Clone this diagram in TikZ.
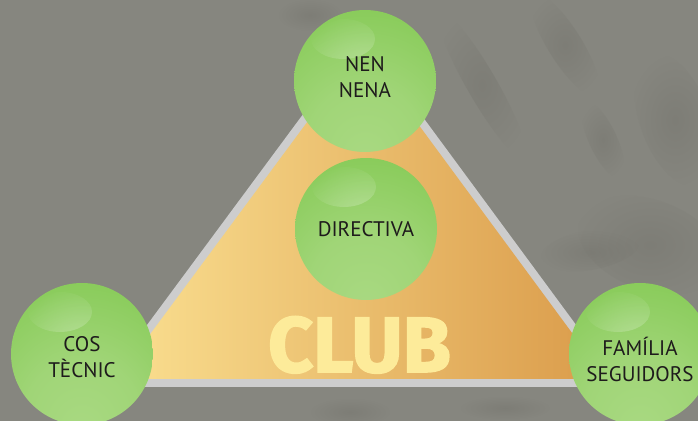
\documentclass[tikz,border=0pt]{standalone}
\usepackage{fontspec}
\setmainfont{PT Sans}
\newfontfamily\clubfont{Fira Sans}[BoldFeatures={FakeBold=2.2}]
\usetikzlibrary{fadings}
\definecolor{bgc}{HTML}{86867F}
\definecolor{rimc}{HTML}{CDCDCD}
\definecolor{triL}{HTML}{FADF90}
\definecolor{triR}{HTML}{DA9B4A}
\definecolor{clubc}{HTML}{FDEB9A}
\definecolor{txt}{HTML}{1E1B1C}
\definecolor{sphL}{HTML}{A9D982}
\definecolor{sphL2}{HTML}{A0D577}
\definecolor{sphM}{HTML}{88CB59}
\definecolor{sphD}{HTML}{78C446}
\definecolor{sphR}{HTML}{70BF40}
\definecolor{handc}{HTML}{6A6962}
\pgfdeclareradialshading{greenball}{\pgfpoint{0bp}{-28bp}}{color(0bp)=(sphL); color(20bp)=(sphL2); color(42bp)=(sphM); color(62bp)=(sphD); color(78bp)=(sphR); color(90bp)=(sphR)}
\tikzfading[name=softfade, inner color=transparent!0, outer color=transparent!100]
\tikzset{
  ball/.style={circle, minimum size=2.84cm, inner sep=0pt, shading=greenball,
    path picture={
      \fill[white, fill opacity=0.32, path fading=softfade,
            shift={(path picture bounding box.center)},
            rotate around={30:(-22,-42)}] (-22,-42) ellipse (32 and 20);
    }},
  lbl/.style={inner sep=0pt, align=center, text=txt, font=\fontsize{12pt}{14.8pt}\selectfont},
  club/.style={inner sep=0pt, text=clubc, font=\fontsize{44.6pt}{50pt}\clubfont\bfseries},
  handmark/.style={fill=handc, fill opacity=0.3, path fading=softfade},
}
\begin{document}
\begin{tikzpicture}[x=0.02cm, y=-0.02cm]
\useasboundingbox (0,0) rectangle (698,421);
\fill[bgc] (0,0) rectangle (698,421);
% faint hand print in the background
\fill[handmark, rotate around={-60:(482,85)}] (482,85) ellipse (85 and 15);
\fill[handmark, rotate around={-58:(565,45)}] (565,45) ellipse (60 and 17);
\fill[handmark, rotate around={-65:(603,140)}] (603,140) ellipse (42 and 14);
\fill[handmark, rotate around={-70:(675,120)}] (675,120) ellipse (70 and 35);
\fill[handmark, rotate around={-20:(650,245)}] (650,245) ellipse (75 and 45);
\fill[handmark, rotate around={10:(590,250)}] (590,250) ellipse (50 and 20);
\fill[handmark] (350,412) ellipse (40 and 14);
\fill[handmark] (505,408) ellipse (45 and 12);
\fill[handmark] (310,15) ellipse (32 and 16);
% triangle
\coordinate (A) at (117,379);
\coordinate (B) at (606,379);
\coordinate (C) at (362,48);
\draw[rimc, line width=0.32cm, line join=miter] (A) -- (B) -- (C) -- cycle;
\shade[left color=triL, right color=triR] (A) -- (B) -- (C) -- cycle;
\node[club, anchor=base] (club) at (359.5,372) {CLUB};
% spheres
\node[ball] (nen) at (365,81) {};
\node[ball] (dir) at (366,229) {};
\node[ball] (cos) at (82,354) {};
\node[ball] (fam) at (640,354) {};
% labels
\node[lbl] (tnen) at (365,77) {NEN\\NENA};
\node[lbl] (tdir) at (dir.center) {DIRECTIVA};
\node[lbl] (tcos) at (82,357.5) {COS\\TÈCNIC};
\node[lbl] (tfam) at (640,359) {FAMÍLIA\\SEGUIDORS};
\end{tikzpicture}
\end{document}
